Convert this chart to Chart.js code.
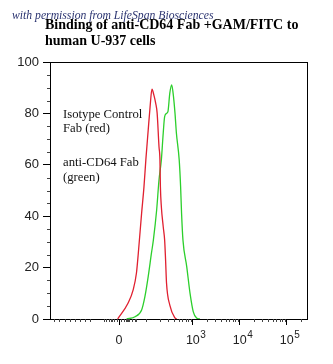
<!DOCTYPE html>
<html lang="en">
<head>
<meta charset="UTF-8" />
<title>Binding of anti-CD64 Fab +GAM/FITC to human U-937 cells</title>
<script src="https://cdn.jsdelivr.net/npm/chart.js"></script>
<style>
  html, body { margin: 0; padding: 0; background: #fff; }
  canvas { display: block; }
</style>
</head>
<body>
<canvas id="histChart" width="333" height="364"></canvas>
<script>
// x = position on the biexponential display (1 unit = 1 decade), y = % of max
var redX = [1.40, 1.62, 1.73, 1.80, 1.84, 1.91, 1.96, 2.00, 2.05, 2.09, 2.13, 2.17, 2.21, 2.24, 2.28, 2.30, 2.31, 2.33, 2.37, 2.40, 2.42, 2.44, 2.51, 2.62, 2.66];
var redY = [0, 6.1, 11.3, 17.9, 25.7, 41.2, 51.4, 61.9, 73.5, 82.5, 89.4, 87.2, 83.9, 80.2, 67.0, 61.9, 51.4, 43.7, 35.9, 30.7, 23.0, 14.0, 5.4, 0.4, 0];
var greenX = [1.59, 1.77, 1.91, 1.98, 2.05, 2.12, 2.16, 2.23, 2.28, 2.33, 2.37, 2.40, 2.44, 2.47, 2.51, 2.55, 2.58, 2.62, 2.65, 2.71, 2.74, 2.76, 2.79, 2.87, 2.94, 3.01, 3.08, 3.15];
var greenY = [0, 0.9, 3.5, 8.7, 16.5, 25.7, 30.7, 42.4, 54.1, 61.9, 72.4, 78.7, 80.0, 80.7, 87.9, 91.1, 87.9, 80.2, 72.4, 61.9, 51.4, 41.2, 30.7, 20.4, 10.1, 2.8, 0.4, 0];

var xTickPos = [1.43, 3, 4, 5];
var xTickLabels = ["0", "10", "10", "10"];
var xTickExp = ["", "3", "4", "5"];

var titleLines = ["Binding of anti-CD64 Fab +GAM/FITC to", "human U-937 cells"];
var noteLines = ["Isotype Control", "Fab (red)", "anti-CD64 Fab", "(green)"];
var watermark = "with permission from LifeSpan Biosciences";

function toPoints(xs, ys) {
  return xs.map(function (x, i) { return { x: x, y: ys[i] }; });
}

// minor tick positions on the x axis (negative side, near zero, log decades)
var minorX = [];
for (var u = 0.05; u < 0.9; u += 0.11) minorX.push(u);
[0.05, 0.1, 0.14, 0.18, 0.22, 0.27, 0.33].forEach(function (d) {
  minorX.push(1.43 - d);
  minorX.push(1.43 + d);
});
minorX.push(1.6, 1.7, 1.8, 2.0);
for (var n = 2; n <= 5; n++) {
  for (var k = 2; k <= 9; k++) {
    var p = n + Math.log10(k);
    if (p < 5.43) minorX.push(p);
  }
}

var tickFont = "'Liberation Sans'";

var extras = {
  id: "extras",
  afterDraw: function (chart) {
    var ctx = chart.ctx, a = chart.chartArea;
    var xs = chart.scales.x, ys = chart.scales.y;
    ctx.save();
    ctx.strokeStyle = "#000";
    ctx.lineWidth = 1;
    ctx.strokeRect(a.left + 0.5, a.top + 0.5, a.right - a.left, a.bottom - a.top);

    // minor ticks
    ctx.strokeStyle = "#444";
    ctx.beginPath();
    for (var v = 5; v < 100; v += 5) {
      if (v % 20 === 0) continue;
      var py = Math.round(ys.getPixelForValue(v)) + 0.5;
      ctx.moveTo(a.left, py);
      ctx.lineTo(a.left - 3, py);
    }
    minorX.forEach(function (m) {
      var px = Math.round(xs.getPixelForValue(m)) + 0.5;
      ctx.moveTo(px, a.bottom);
      ctx.lineTo(px, a.bottom + 3);
    });
    ctx.stroke();

    // exponents next to the "10" tick labels
    ctx.fillStyle = "#222";
    ctx.textBaseline = "middle";
    ctx.textAlign = "left";
    xTickPos.forEach(function (pos, i) {
      if (!xTickExp[i]) return;
      ctx.font = "12.5px " + tickFont;
      var w = ctx.measureText(xTickLabels[i]).width;
      var px = xs.getPixelForValue(pos) + w / 2 + 0.5;
      ctx.font = "10px " + tickFont;
      ctx.fillText(xTickExp[i], px, a.bottom + 16);
    });

    // watermark + title
    ctx.textBaseline = "alphabetic";
    ctx.fillStyle = "#2a3370";
    ctx.font = "italic 11.7px 'Liberation Serif'";
    ctx.fillText(watermark, 12, 19);
    ctx.fillStyle = "#000";
    ctx.font = "bold 14px 'Liberation Serif'";
    ctx.fillText(titleLines[0], 45, 29);
    ctx.fillText(titleLines[1], 45, 45);

    // annotation inside the plot
    ctx.font = "12.7px 'Liberation Serif'";
    ctx.fillStyle = "#111";
    ctx.fillText(noteLines[0], 63, 118);
    ctx.fillText(noteLines[1], 63, 132);
    ctx.fillText(noteLines[2], 63, 166);
    ctx.fillText(noteLines[3], 63, 181);
    ctx.restore();
  }
};

var ctx = document.getElementById("histChart").getContext("2d");
var histChart = new Chart(ctx, {
  type: "line",
  data: {
    datasets: [
      {
        label: "Isotype Control Fab",
        data: toPoints(redX, redY),
        borderColor: "#e02030",
        borderWidth: 1.3,
        pointRadius: 0,
        fill: false,
        cubicInterpolationMode: "monotone",
      },
      {
        label: "anti-CD64 Fab",
        data: toPoints(greenX, greenY),
        borderColor: "#2ccf2c",
        borderWidth: 1.3,
        pointRadius: 0,
        fill: false,
        cubicInterpolationMode: "monotone",
      },
    ],
  },
  options: {
    responsive: false,
    animation: false,
    devicePixelRatio: 1,
    layout: { padding: { top: 62, right: 26, bottom: 10, left: 0 } },
    plugins: {
      legend: { display: false },
      tooltip: { enabled: false },
    },
    scales: {
      x: {
        type: "linear",
        min: -0.04,
        max: 5.43,
        afterBuildTicks: function (s) {
          s.ticks = xTickPos.map(function (v) { return { value: v }; });
        },
        afterFit: function (s) { s.height = 35; },
        ticks: {
          autoSkip: false,
          maxRotation: 0,
          padding: 8,
          color: "#222",
          font: { family: tickFont, size: 12.5 },
          callback: function (v, i) { return xTickLabels[i]; },
        },
        grid: { drawOnChartArea: false, tickLength: 6, color: "#000" },
        border: { color: "#000" },
      },
      y: {
        min: 0,
        max: 100,
        afterFit: function (s) { s.width = 50; },
        ticks: {
          stepSize: 20,
          padding: 4,
          color: "#222",
          font: { family: tickFont, size: 13 },
        },
        grid: { drawOnChartArea: false, tickLength: 7, color: "#000" },
        border: { color: "#000" },
      },
    },
  },
  plugins: [extras],
});
</script>
</body>
</html>
